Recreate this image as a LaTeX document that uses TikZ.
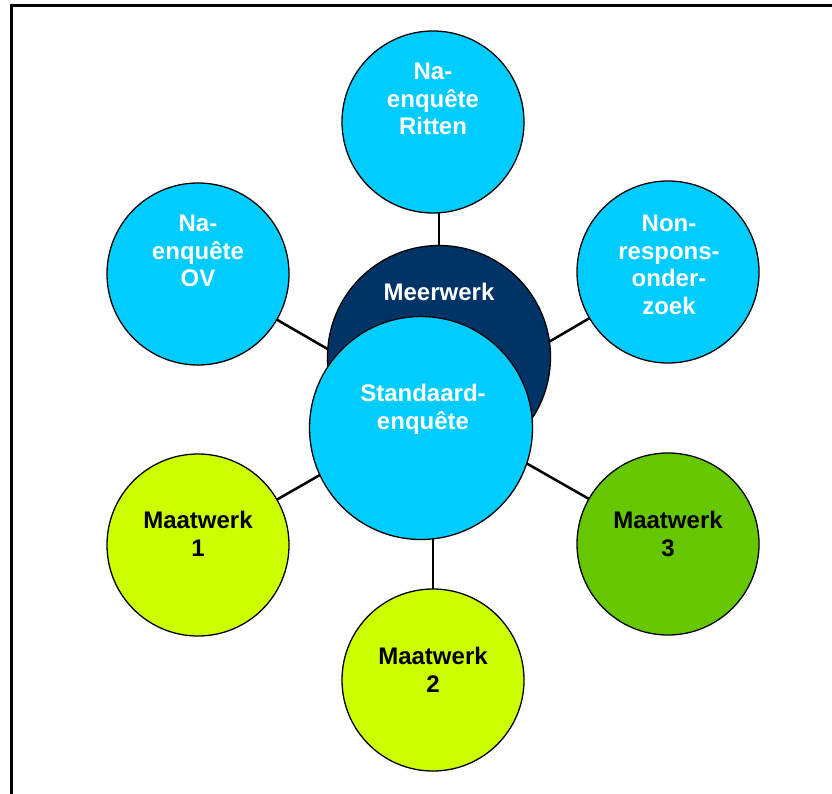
\documentclass[tikz,border=0pt]{standalone}
\usepackage{fontspec}
\setmainfont{Liberation Sans}
\definecolor{skyb}{HTML}{00CCFF}
\definecolor{navy}{HTML}{003366}
\definecolor{lime}{HTML}{CCFF00}
\definecolor{grn}{HTML}{66C600}
\begin{document}
\begin{tikzpicture}[x=1pt,y=-1pt,
  bubble/.style={circle,draw=black,line width=1.3pt,inner sep=0pt,minimum size=182pt},
  big/.style={circle,draw=black,line width=1.3pt,inner sep=0pt,minimum size=223pt},
  lbl/.style={anchor=north,inner sep=0pt,align=center,font=\fontsize{24}{27.5}\selectfont\bfseries},
  link/.style={line width=2.5pt,black}]
\useasboundingbox (0,0) rectangle (832,794);
\fill[white] (0,0) rectangle (832,794);
\draw[line width=2.5pt] (11.3,800) -- (11.3,5.3) -- (840,5.3);
\coordinate (hub) at (433,410);
\coordinate (mc) at (439,357);
\path (433,122) coordinate (cRit);
\path (198,274) coordinate (cOV);
\path (668,272) coordinate (cNon);
\path (198,545) coordinate (cM1);
\path (433,680) coordinate (cM2);
\path (668,544) coordinate (cM3);
\draw[link] (mc) -- (mc |- cRit);
\draw[link] (cOV) -- (hub);
\draw[link] (cNon) -- (hub);
\draw[link] (cM1) -- (hub);
\draw[link] (cM2) -- (hub);
\draw[link] (cM3) -- (hub);
\node[bubble,fill=skyb] (rit) at (cRit) {};
\node[bubble,fill=skyb] (ov) at (cOV) {};
\node[bubble,fill=skyb] (non) at (cNon) {};
\node[bubble,fill=lime] (m1) at (cM1) {};
\node[bubble,fill=lime] (m2) at (cM2) {};
\node[bubble,fill=grn] (m3) at (cM3) {};
\node[big,fill=navy] (meer) at (mc) {};
\node[big,fill=skyb] (std) at (421,428) {};
% texts
\node[lbl,text=white] (tRit) at (433,63) {Na-\\enquête\\Ritten};
\node[lbl,text=white] (tOV) at (198,215) {Na-\\enquête\\OV};
\node[lbl,text=white] (tNon) at (669,215) {Non-\\respons-\\onder-\\zoek};
\node[lbl] (tM1) at (198,511) {Maatwerk\\1};
\node[lbl] (tM3) at (668,511) {Maatwerk\\3};
\node[lbl] (tM2) at (433,647) {Maatwerk\\2};
\node[lbl,text=white] (tMeer) at (439,283) {Meerwerk};
\node[lbl,text=white] (tStd) at (423,384) {Standaard-\\enquête};
\end{tikzpicture}
\end{document}
